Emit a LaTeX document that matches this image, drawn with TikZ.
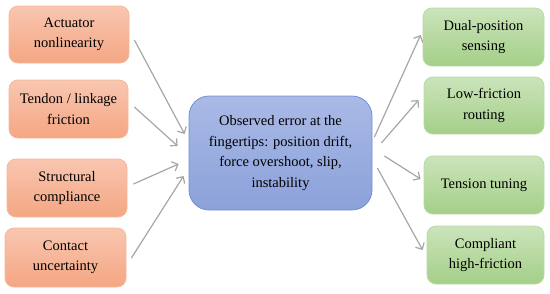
\documentclass[tikz,border=0pt]{standalone}
\usepackage{fontspec}
\setmainfont{Liberation Serif}
\usetikzlibrary{arrows.meta,calc}
\definecolor{orTop}{HTML}{F9C6B0}
\definecolor{orBot}{HTML}{F4A683}
\definecolor{orLine}{HTML}{F6B89C}
\definecolor{grTop}{HTML}{CBE4BB}
\definecolor{grBot}{HTML}{A4CF88}
\definecolor{grLine}{HTML}{B9DBA3}
\definecolor{blTop}{HTML}{AABAE6}
\definecolor{blBot}{HTML}{8BA1DA}
\definecolor{blLine}{HTML}{7090D6}
\definecolor{arrGray}{HTML}{A6A6A6}
\tikzset{
  boxbase/.style={rounded corners=9pt, line width=0.8pt, align=center,
    inner sep=0pt, font=\fontsize{14.5}{20.5}\selectfont, text=black},
  causebox/.style={boxbase, top color=orTop, bottom color=orBot, draw=orLine},
  fixbox/.style={boxbase, top color=grTop, bottom color=grBot, draw=grLine},
  errbox/.style={boxbase, rounded corners=20pt, top color=blTop, bottom color=blBot, draw=blLine},
  conn/.style={draw=arrGray, line width=1.2pt, -{Straight Barb[length=5pt,width=10pt]}}
}
\begin{document}
\begin{tikzpicture}[x=1pt,y=-1pt]
\useasboundingbox (0,0) rectangle (550,293);
% left cause boxes
\node[causebox, minimum width=120pt, minimum height=57pt] (L1) at (69,34.5) {Actuator\\nonlinearity};
\node[causebox, minimum width=119pt, minimum height=58pt] (L2) at (68.5,109) {Tendon / linkage\\friction};
\node[causebox, minimum width=120pt, minimum height=58pt] (L3) at (67,188) {Structural\\compliance};
\node[causebox, minimum width=121pt, minimum height=59pt] (L4) at (65.5,257.5) {Contact\\uncertainty};
% center
\node[errbox, minimum width=183pt, minimum height=114pt] (C) at (280.5,153) {Observed error at the\\fingertips: position drift,\\force overshoot, slip,\\instability};
% right fix boxes
\node[fixbox, minimum width=121pt, minimum height=58pt] (R1) at (483.5,37) {Dual-position\\sensing};
\node[fixbox, minimum width=120pt, minimum height=57pt] (R2) at (484,105.5) {Low-friction\\routing};
\node[fixbox, minimum width=120pt, minimum height=58pt] (R3) at (484,185) {Tension tuning};
\node[fixbox, minimum width=117pt, minimum height=58pt] (R4) at (485.5,255) {Compliant\\high-friction};
% connectors into center
\draw[conn] ($(L1.east)+(5,5.5)$) -- ($(C.west)+(-4,-19)$);
\draw[conn] ($(L2.east)+(6,-2)$) -- ($(C.west)+(-11,-7)$);
\draw[conn] ($(L3.east)+(6,-4)$) -- ($(C.west)+(-10,11)$);
\draw[conn] ($(L4.east)+(5,0.5)$) -- ($(C.west)+(-5,23)$);
% connectors out of center
\draw[conn] ($(C.east)+(2,-16)$) -- ($(R1.west)+(-2,-2)$);
\draw[conn] ($(C.east)+(9,-10)$) -- ($(R2.west)+(-5,-5.5)$);
\draw[conn] ($(C.east)+(12,3)$) -- ($(R3.west)+(-3,-6)$);
\draw[conn] ($(C.east)+(5,15)$) -- ($(R4.west)+(-4,-5)$);
\end{tikzpicture}
\end{document}
